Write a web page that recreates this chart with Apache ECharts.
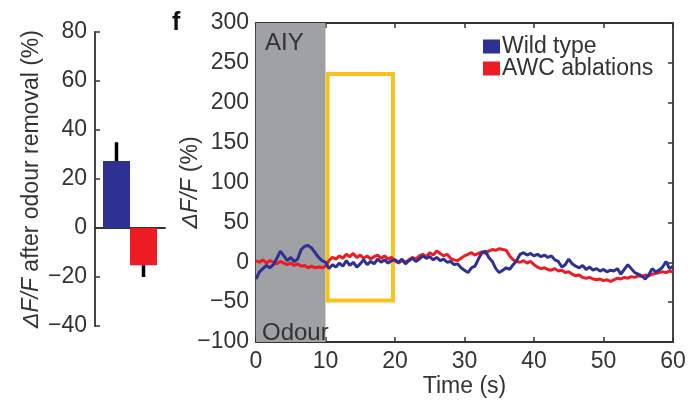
<!DOCTYPE html>
<html>
<head>
<meta charset="utf-8">
<script src="https://cdn.jsdelivr.net/npm/echarts@6/dist/echarts.min.js"></script>
<style>
  html, body { margin: 0; padding: 0; background: #fff; }
  #chart { width: 693px; height: 403px; }
</style>
</head>
<body>
<div id="chart"></div>
<script>
// ---- Panel e: mean ΔF/F after odour removal ----
const barGroups = ['Wild type', 'AWC ablations'];
const barMeans = [27.3, -15.2];
const barErrors = [7.7, 4.8];

// ---- Panel f: AIY calcium traces (sampled every 0.5 s, 0–60 s) ----
const timeStep = 0.5;
const wildType = [
  -21, -12, -8, -4, -7, -3, 5, 14, 8, 2,
  6, 1, 4, 16, 20, 21, 18, 12, 6, 2,
  0, -8, -3, -6, -1, -5, 2, -4, 0, -6,
  -2, 3, -3, 1, -2, 4, 0, 3, -1, 2,
  3, 0, 4, -2, 2, 5, 1, 4, 8, 5,
  7, 3, 6, 2, 4, 0, 1, -3, -2, -7,
  -10, -13, -7, -5, 4, 12, 14, 6, 1, -8,
  -13, -10, -7, -9, -3, 2, 10, 12, 9, 11,
  8, 10, 7, 9, 6, 8, 3, 1, -6, -3,
  4, -2, -5, -7, -4, -9, -6, -10, -8, -11,
  -9, -12, -10, -11, -8, -15, -9, -3, -8, -13,
  -15, -17, -21, -16, -8, -12, -10, -6, 1, -8,
  -5
];
const awcAblations = [
  2, 0, 3, -1, 2, 0, -2, 1, -1, -3,
  -1, -4, -2, -5, -4, -7, -5, -7, -6, -7,
  -5, 2, 6, 4, 8, 5, 10, 7, 11, 6,
  9, 5, 8, 4, 7, 9, 5, 8, 4, 6,
  2, -1, 2, 0, 3, 6, 4, 8, 10, 7,
  12, 9, 14, 11, 8, 10, 5, 3, 2, 5,
  8, 10, 12, 9, 11, 13, 11, 14, 16, 15,
  17, 16, 15, 8, 3, 1, 0, 2, -1, 1,
  -3, -6, -8, -7, -9, -10, -8, -11, -10, -13,
  -12, -15, -17, -16, -19, -20, -19, -21, -22, -21,
  -23, -22, -24, -22, -20, -21, -19, -20, -18, -19,
  -17, -18, -16, -17, -15, -14, -13, -12, -13, -11,
  -12
];
const odourWindow = [0, 10];                 // seconds, odour on
const analysisWindow = { t: [10.3, 19.7], v: [-48, 236] };

const BLUE = '#2e3192';
const RED = '#ed1c24';
const INK = '#333333';
const FONT = '"Liberation Sans", Arial, Helvetica, sans-serif';
const FS = 23;
const BAR_W = 27;

const minus = v => String(v).replace('-', '\u2212');
const toPairs = arr => arr.map((v, i) => [i * timeStep, v]);

const chart = echarts.init(document.getElementById('chart'));

const tickStyle = { show: true, inside: true, length: 5, lineStyle: { color: INK, width: 1.5 } };
const lineStyleAxis = { show: true, onZero: false, lineStyle: { color: INK, width: 1.8 } };
const axisName = {
  fontSize: FS, color: INK,
  rich: { i: { fontSize: FS, fontStyle: 'italic', color: INK } }
};

chart.setOption({
  animation: false,
  textStyle: { fontFamily: FONT },
  legend: {
    orient: 'vertical',
    left: 483, top: 35, padding: 0,
    itemWidth: 17, itemHeight: 14, itemGap: -1,
    icon: 'rect',
    data: barGroups,
    textStyle: { fontSize: FS, color: INK, fontFamily: FONT, padding: [0, 0, 0, -3] }
  },
  grid: [
    { left: 95, top: 32, width: 70, height: 294 },
    { left: 256, top: 23, width: 417, height: 322 }
  ],
  xAxis: [
    {
      gridIndex: 0, type: 'category', data: ['odour removal'],
      axisLine: { show: true, onZero: true, lineStyle: { color: INK, width: 1.8 } },
      axisTick: { show: false }, axisLabel: { show: false }
    },
    {
      gridIndex: 1, type: 'value', min: 0, max: 60, interval: 10,
      name: 'Time (s)', nameLocation: 'middle', nameGap: 33, nameMoveOverlap: false,
      nameTextStyle: { fontSize: FS, color: INK },
      axisLine: lineStyleAxis, axisTick: tickStyle,
      axisLabel: { fontSize: FS, color: INK, margin: 8 },
      splitLine: { show: false }
    },
    {
      gridIndex: 1, type: 'value', position: 'top', min: 0, max: 60, interval: 10,
      axisLine: lineStyleAxis, axisTick: tickStyle,
      axisLabel: { show: false }, splitLine: { show: false }
    }
  ],
  yAxis: [
    {
      gridIndex: 0, type: 'value', min: -40, max: 80, interval: 20,
      name: '{i|\u0394F/F} after odour removal (%)',
      nameLocation: 'middle', nameRotate: 90, nameGap: 52, nameMoveOverlap: false,
      nameTextStyle: axisName,
      axisLine: lineStyleAxis, axisTick: tickStyle,
      axisLabel: { fontSize: FS, color: INK, margin: 8, formatter: minus },
      splitLine: { show: false }
    },
    {
      gridIndex: 1, type: 'value', min: -100, max: 300, interval: 50,
      name: '{i|\u0394F/F} (%)',
      nameLocation: 'middle', nameRotate: 90, nameGap: 54, nameMoveOverlap: false,
      nameTextStyle: axisName,
      axisLine: lineStyleAxis, axisTick: tickStyle,
      axisLabel: { fontSize: FS, color: INK, margin: 7, formatter: minus },
      splitLine: { show: false }
    },
    {
      gridIndex: 1, type: 'value', position: 'right', min: -100, max: 300, interval: 50,
      axisLine: lineStyleAxis, axisTick: tickStyle,
      axisLabel: { show: false }, splitLine: { show: false }
    }
  ],
  series: [
    {
      name: barGroups[0], type: 'bar', xAxisIndex: 0, yAxisIndex: 0,
      data: [barMeans[0]], barWidth: BAR_W, barGap: '0%',
      itemStyle: { color: BLUE }, z: 3
    },
    {
      name: barGroups[1], type: 'bar', xAxisIndex: 0, yAxisIndex: 0,
      data: [barMeans[1]], barWidth: BAR_W, barGap: '0%',
      itemStyle: { color: RED }, z: 3
    },
    {
      // one-sided error bars drawn outward from each bar's end
      type: 'custom', xAxisIndex: 0, yAxisIndex: 0, z: 4, silent: true,
      data: barMeans.map((m, i) => [0, m, barErrors[i], i]),
      renderItem: (params, api) => {
        const mean = api.value(1);
        const err = api.value(2);
        const idx = api.value(3);
        const base = api.coord([api.value(0), mean]);
        const tip = api.coord([api.value(0), mean + Math.sign(mean) * err]);
        const x = base[0] + (idx - 0.5) * BAR_W;
        return {
          type: 'line',
          shape: { x1: x, y1: base[1], x2: x, y2: tip[1] },
          style: { stroke: '#000', lineWidth: 3.5 }
        };
      }
    },
    {
      name: barGroups[1], type: 'line', xAxisIndex: 1, yAxisIndex: 1,
      data: toPairs(awcAblations), showSymbol: false,
      lineStyle: { color: RED, width: 3 }, itemStyle: { color: RED },
      markArea: {
        silent: true,
        itemStyle: { color: '#a0a1a5' },
        data: [[{ xAxis: odourWindow[0] }, { xAxis: odourWindow[1] }]]
      }
    },
    {
      name: barGroups[0], type: 'line', xAxisIndex: 1, yAxisIndex: 1,
      data: toPairs(wildType), showSymbol: false, z: 3,
      lineStyle: { color: BLUE, width: 3 }, itemStyle: { color: BLUE },
      markArea: {
        silent: true,
        itemStyle: { color: 'rgba(0,0,0,0)', borderColor: '#f8c31c', borderWidth: 4 },
        data: [[
          { coord: [analysisWindow.t[0], analysisWindow.v[1]] },
          { coord: [analysisWindow.t[1], analysisWindow.v[0]] }
        ]]
      }
    }
  ],
  graphic: [
    { type: 'text', left: 172, top: 11, z: 100, style: { text: 'f', font: 'bold 25px ' + FONT, fill: '#111' } },
    { type: 'text', left: 265, top: 31, z: 100, style: { text: 'AIY', font: '24px ' + FONT, fill: INK } },
    { type: 'text', left: 262, top: 321, z: 100, style: { text: 'Odour', font: '24px ' + FONT, fill: INK } }
  ]
});
</script>
</body>
</html>
